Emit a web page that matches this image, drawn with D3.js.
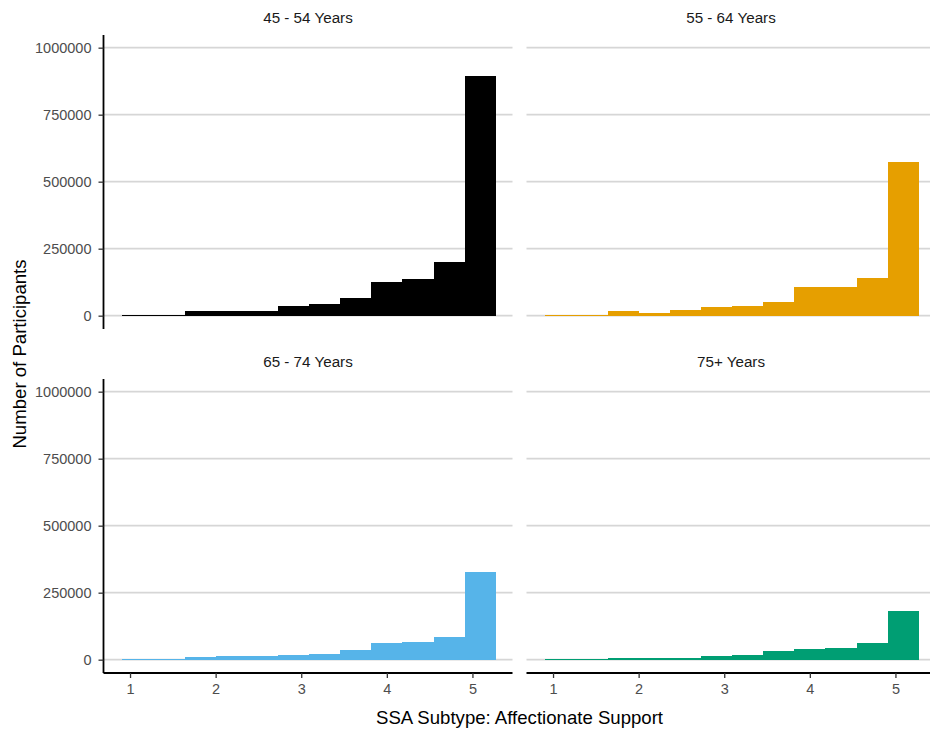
<!DOCTYPE html>
<meta charset="utf-8">
<head>
<title>SSA Affectionate Support by Age Group</title>
<script src="https://d3js.org/d3.v7.min.js"></script>
<style>
body { margin: 0; background: #fff; }
svg { font-family: "Liberation Sans", Arial, sans-serif; }
.grid line { stroke: #d6d6d6; stroke-width: 1.8px; }
.bar { shape-rendering: crispEdges; }
.tick-label { fill: #4d4d4d; font-size: 14.5px; }
.strip { fill: #1a1a1a; font-size: 15.2px; }
.axis-title { fill: #000; font-size: 18.6px; }
</style>
</head>
<body>
<script>
// Facets, colours and histogram bins
const panels = ["45 - 54 Years", "55 - 64 Years", "65 - 74 Years", "75+ Years"];
const panelColors = ["#000000", "#E69F00", "#56B4E9", "#009E73"];
const binEdges = [0.910, 1.274, 1.637, 2.001, 2.364, 2.728, 3.092, 3.455, 3.819, 4.182, 4.546, 4.910, 5.273];

// Counts per bin
const counts4554 = [3000, 3000, 16000, 16000, 16000, 35000, 44000, 66000, 127000, 136000, 199000, 893000];
const counts5564 = [3000, 3000, 16000, 11000, 21000, 31000, 36000, 52000, 106000, 106000, 142000, 573000];
const counts6574 = [4000, 4000, 9000, 13000, 13000, 19000, 22000, 36000, 62000, 67000, 85000, 328000];
const counts75 = [2500, 2500, 7500, 7500, 7500, 12000, 19000, 31000, 40000, 45000, 62000, 181000];
const allCounts = [counts4554, counts5564, counts6574, counts75];

const yTicks = [0, 250000, 500000, 750000, 1000000];
const xTicks = [1, 2, 3, 4, 5];

const W = 930, H = 734;
const svg = d3.select("body").append("svg")
    .attr("width", W)
    .attr("height", H);

// panel geometry (right column runs slightly past the picture edge)
const colX = [103.5, 526.5];
const rowY = [35, 379];
const panelW = 409, panelH = 294;

const x = d3.scaleLinear().domain([0.69, 0.69 + panelW / 85.6]).range([0, panelW]);
const y = d3.scaleLinear().domain([-49700, 1047300]).range([panelH, 0]);

panels.forEach((name, i) => {
    const col = i % 2, row = Math.floor(i / 2);
    const g = svg.append("g")
        .attr("transform", `translate(${colX[col]},${rowY[row]})`);

    // gridlines
    g.append("g").attr("class", "grid")
        .selectAll("line")
        .data(yTicks)
        .join("line")
        .attr("x1", 0).attr("x2", panelW)
        .attr("y1", d => y(d)).attr("y2", d => y(d));

    // bars
    const bins = allCounts[i].map((c, k) => ({x0: binEdges[k], x1: binEdges[k + 1], n: c}));
    g.selectAll("rect.bar")
        .data(bins)
        .join("rect")
        .attr("class", "bar")
        .attr("x", d => x(d.x0))
        .attr("width", d => x(d.x1) - x(d.x0) + 0.5)
        .attr("y", d => y(d.n))
        .attr("height", d => y(0) - y(d.n))
        .attr("fill", panelColors[i]);

    // strip title
    svg.append("text")
        .attr("class", "strip")
        .attr("x", colX[col] + panelW / 2)
        .attr("y", rowY[row] - 12)
        .attr("text-anchor", "middle")
        .text(name);

    // y axis on left column
    if (col === 0) {
        const yAxis = d3.axisLeft(y).tickValues(yTicks).tickSize(5).tickPadding(7)
            .tickFormat(d3.format("d"));
        const ya = g.append("g").call(yAxis);
        ya.select(".domain").attr("stroke", "#000").attr("stroke-width", 1.8).attr("d", `M0,0V${panelH}`);
        ya.selectAll(".tick line").attr("stroke", "#333").attr("stroke-width", 1.3);
        ya.selectAll(".tick text").attr("class", "tick-label").attr("fill", null);
    }

    // x axis on bottom row
    if (row === 1) {
        const xAxis = d3.axisBottom(x).tickValues(xTicks).tickSize(5).tickPadding(6)
            .tickFormat(d3.format("d"));
        const xa = g.append("g").attr("transform", `translate(0,${panelH})`).call(xAxis);
        xa.select(".domain").attr("stroke", "#000").attr("stroke-width", 1.8).attr("d", `M0,0H${panelW}`);
        xa.selectAll(".tick line").attr("stroke", "#333").attr("stroke-width", 1.3);
        xa.selectAll(".tick text").attr("class", "tick-label").attr("fill", null);
    }
});

// axis titles
svg.append("text")
    .attr("class", "axis-title")
    .attr("x", (colX[0] + colX[1] + panelW) / 2)
    .attr("y", 724)
    .attr("text-anchor", "middle")
    .text("SSA Subtype: Affectionate Support");

svg.append("text")
    .attr("class", "axis-title")
    .attr("transform", `translate(26,${(rowY[0] + rowY[1] + panelH) / 2}) rotate(-90)`)
    .attr("text-anchor", "middle")
    .text("Number of Participants");
</script>
</body>
</html>
